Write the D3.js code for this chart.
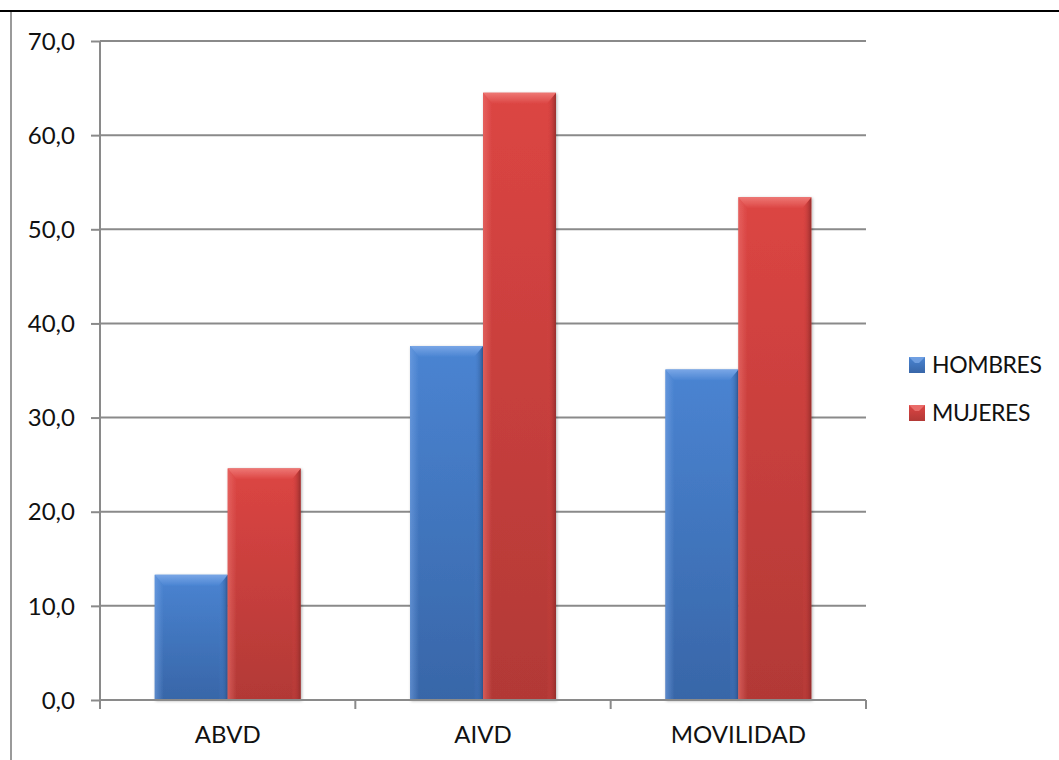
<!DOCTYPE html>
<html>
<head>
<meta charset="utf-8">
<script src="https://cdn.jsdelivr.net/npm/d3@7"></script>
<style>
  html, body { margin: 0; padding: 0; background: #fff; }
  svg { display: block; }
  text { font-family: Lato, "Liberation Sans", sans-serif; fill: #111; }
</style>
</head>
<body>
<svg id="chart" width="1059" height="760"></svg>
<script>
// Categories, series and values
const categories = ["ABVD", "AIVD", "MOVILIDAD"];
const seriesNames = ["HOMBRES", "MUJERES"];
const hombres = [13.3, 37.6, 35.1];
const mujeres = [24.6, 64.5, 53.4];
const yTicks = [0, 10, 20, 30, 40, 50, 60, 70];

const seriesValues = [hombres, mujeres];
const rows = categories.map((c, i) => ({
  category: c,
  values: seriesNames.map((s, j) => ({ series: s, value: seriesValues[j][i] }))
}));

const svg = d3.select("#chart");
const W = 1059, H = 760;
const plot = { left: 100, right: 866, top: 41, bottom: 700 };

// palette per series: top, bottom, bevel light, bevel dark
const palette = {
  HOMBRES: { top: "#4a84d2", bottom: "#3866a8", light: "#79a6e6", dark: "#2e558e" },
  MUJERES: { top: "#dc4543", bottom: "#b23936", light: "#ee7774", dark: "#8f2b29" }
};

const defs = svg.append("defs");
seriesNames.forEach((s, i) => {
  const p = palette[s];
  const g = defs.append("linearGradient").attr("id", "body" + i)
    .attr("x1", 0).attr("y1", 0).attr("x2", 0).attr("y2", 1);
  g.append("stop").attr("offset", "0%").attr("stop-color", p.top);
  g.append("stop").attr("offset", "100%").attr("stop-color", p.bottom);
  const t = defs.append("linearGradient").attr("id", "topBevel" + i)
    .attr("x1", 0).attr("y1", 0).attr("x2", 0).attr("y2", 1);
  t.append("stop").attr("offset", "0%").attr("stop-color", p.light);
  t.append("stop").attr("offset", "100%").attr("stop-color", p.top);
  const r = defs.append("linearGradient").attr("id", "rightBevel" + i)
    .attr("x1", 0).attr("y1", 0).attr("x2", 1).attr("y2", 0);
  r.append("stop").attr("offset", "0%").attr("stop-color", p.top).attr("stop-opacity", 0);
  r.append("stop").attr("offset", "100%").attr("stop-color", p.dark).attr("stop-opacity", 0.9);
  const l = defs.append("linearGradient").attr("id", "leftBevel" + i)
    .attr("x1", 0).attr("y1", 0).attr("x2", 1).attr("y2", 0);
  l.append("stop").attr("offset", "0%").attr("stop-color", p.light).attr("stop-opacity", 0.55);
  l.append("stop").attr("offset", "100%").attr("stop-color", p.light).attr("stop-opacity", 0);
});
const shadow = defs.append("filter").attr("id", "shadow")
  .attr("x", "-10%").attr("y", "-10%").attr("width", "130%").attr("height", "130%");
shadow.append("feDropShadow").attr("dx", 1).attr("dy", 1)
  .attr("stdDeviation", 1.5).attr("flood-color", "#000").attr("flood-opacity", 0.3);

// Scales
const x0 = d3.scaleBand().domain(categories).range([plot.left, plot.right]).padding(0);
const x1 = d3.scaleBand().domain(seriesNames).range([0, x0.bandwidth()])
  .paddingInner(0).paddingOuter(0.75);
const y = d3.scaleLinear().domain([0, 70]).range([plot.bottom, plot.top]);

// Outer frame lines
svg.append("line").attr("x1", 0).attr("x2", W).attr("y1", 11).attr("y2", 11)
  .attr("stroke", "#000").attr("stroke-width", 2);
svg.append("line").attr("x1", 11).attr("x2", 11).attr("y1", 12).attr("y2", H)
  .attr("stroke", "#9a9a9a").attr("stroke-width", 2);

// Gridlines
svg.append("g").selectAll("line").data(yTicks.filter(d => d > 0)).join("line")
  .attr("x1", plot.left).attr("x2", plot.right)
  .attr("y1", d => y(d)).attr("y2", d => y(d))
  .attr("stroke", "#8a8a8a").attr("stroke-width", 2);

// Y axis
const yAxis = svg.append("g").attr("transform", `translate(${plot.left},0)`)
  .call(d3.axisLeft(y).tickValues(yTicks).tickSize(9).tickPadding(16)
    .tickFormat(d => d3.format(".1f")(d).replace(".", ",")));
yAxis.select(".domain").attr("stroke", "#8a8a8a").attr("stroke-width", 2)
  .attr("d", `M0,${plot.top}V${plot.bottom}`);
yAxis.selectAll(".tick line").attr("stroke", "#8a8a8a").attr("stroke-width", 2);
yAxis.selectAll(".tick text").attr("font-size", 24).attr("font-family", "Lato")
  .attr("fill", "#111").attr("dy", "0.34em");

// Bars
const groups = svg.append("g").selectAll("g").data(rows).join("g")
  .attr("transform", d => `translate(${x0(d.category)},0)`);

groups.each(function (row) {
  const g = d3.select(this);
  row.values.forEach((v, j) => {
    const bx = x1(v.series), bw = x1.bandwidth();
    const by = y(v.value), bh = y(0) - y(v.value);
    const b = 11, s = 9;
    const bar = g.append("g").attr("filter", "url(#shadow)");
    bar.append("rect").attr("x", bx).attr("y", by).attr("width", bw).attr("height", bh)
      .attr("fill", `url(#body${j})`);
    bar.append("polygon")
      .attr("points", [[bx, by], [bx + s, by + b], [bx + s, by + bh], [bx, by + bh]].join(" "))
      .attr("fill", `url(#leftBevel${j})`);
    bar.append("polygon")
      .attr("points", [[bx + bw, by], [bx + bw - s, by + b], [bx + bw - s, by + bh], [bx + bw, by + bh]].join(" "))
      .attr("fill", `url(#rightBevel${j})`);
    bar.append("polygon")
      .attr("points", [[bx, by], [bx + bw, by], [bx + bw - s, by + b], [bx + s, by + b]].join(" "))
      .attr("fill", `url(#topBevel${j})`);
  });
});

// X axis
const xAxis = svg.append("g");
xAxis.append("line").attr("x1", plot.left).attr("x2", plot.right)
  .attr("y1", plot.bottom).attr("y2", plot.bottom)
  .attr("stroke", "#8a8a8a").attr("stroke-width", 2);
const bounds = categories.map(c => x0(c)).concat([x0(categories[categories.length - 1]) + x0.bandwidth()]);
xAxis.selectAll("line.tk").data(bounds).join("line").attr("class", "tk")
  .attr("x1", d => d).attr("x2", d => d)
  .attr("y1", plot.bottom).attr("y2", plot.bottom + 9)
  .attr("stroke", "#8a8a8a").attr("stroke-width", 2);
xAxis.selectAll("text").data(categories).join("text")
  .attr("x", d => x0(d) + x0.bandwidth() / 2).attr("y", 743)
  .attr("text-anchor", "middle").attr("font-size", 24).text(d => d);

// Legend
const legend = svg.append("g").attr("transform", "translate(909,0)");
const legendY = d3.scalePoint().domain(seriesNames).range([373, 421]);
seriesNames.forEach((s, j) => {
  const ly = legendY(s);
  const item = legend.append("g");
  item.append("rect").attr("x", 0).attr("y", ly - 16).attr("width", 16).attr("height", 16)
    .attr("fill", `url(#body${j})`);
  item.append("polygon")
    .attr("points", [[0, ly - 16], [16, ly - 16], [10, ly - 10], [6, ly - 10]].join(" "))
    .attr("fill", palette[s].light).attr("opacity", 0.8);
  item.append("text").attr("x", 23).attr("y", ly).attr("font-size", 23)
    .attr("letter-spacing", -0.4).text(s);
});
</script>
</body>
</html>
